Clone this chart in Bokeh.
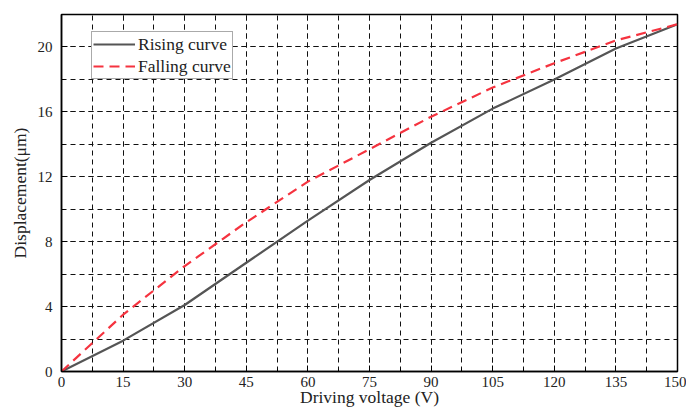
from bokeh.plotting import figure
from bokeh.models import Range1d, Legend, LegendItem, SingleIntervalTicker
from bokeh.embed import file_html
from bokeh.resources import INLINE

voltage = [0, 15, 30, 45, 60, 75, 90, 105, 120, 135, 150]
rising = [0, 1.9, 4.1, 6.7, 9.3, 11.8, 14.1, 16.2, 18.0, 19.9, 21.4]
falling = [0, 3.5, 6.5, 9.2, 11.7, 13.7, 15.7, 17.5, 19.0, 20.4, 21.4]

FONT = "Liberation Serif"

p = figure(width=686, height=414, output_backend="svg", toolbar_location=None,
           x_range=Range1d(0, 150), y_range=Range1d(0, 22),
           min_border_left=61, min_border_right=9, min_border_top=14, min_border_bottom=43)

p.background_fill_color = "white"
p.border_fill_color = "white"
p.outline_line_color = "black"
p.outline_line_width = 1.5
p.outline_line_alpha = 1

p.xaxis.ticker = SingleIntervalTicker(interval=15, num_minor_ticks=2)
p.yaxis.ticker = SingleIntervalTicker(interval=4, num_minor_ticks=2)

for ax in (p.xaxis[0], p.yaxis[0]):
    ax.axis_line_color = "black"
    ax.axis_line_width = 1.5
    ax.major_tick_in = 6
    ax.major_tick_out = 0
    ax.minor_tick_in = 3
    ax.minor_tick_out = 0
    ax.major_tick_line_color = "black"
    ax.minor_tick_line_color = "black"
    ax.major_label_text_font = FONT
    ax.major_label_text_font_size = "15px"
    ax.major_label_text_color = "#222222"
    ax.axis_label_text_font = FONT
    ax.axis_label_text_font_size = "17.5px"
    ax.axis_label_text_font_style = "normal"
    ax.axis_label_text_color = "#222222"

p.xaxis.axis_label = "Driving voltage (V)"
p.yaxis.axis_label = "Displacement(\u03bcm)"
p.xaxis.major_label_standoff = 5
p.xaxis.axis_label_standoff = -3
p.yaxis.major_label_standoff = 9
p.yaxis.axis_label_standoff = 5

for g in (p.xgrid[0], p.ygrid[0]):
    g.grid_line_color = "#111111"
    g.grid_line_dash = "5 4"
    g.grid_line_width = 1
    g.minor_grid_line_color = "#111111"
    g.minor_grid_line_dash = "5 4"
    g.minor_grid_line_width = 1

r1 = p.line(voltage, rising, line_color="#555555", line_width=2.2)
r2 = p.line(voltage, falling, line_color="#f5333f", line_width=2.2, line_dash="10 6")

legend = Legend(items=[LegendItem(label="Rising curve", renderers=[r1]),
                       LegendItem(label="Falling curve", renderers=[r2])],
                location=(30, 292))
legend.label_text_font = FONT
legend.label_text_font_size = "17.5px"
legend.label_text_color = "#222222"
legend.border_line_color = "#555555"
legend.border_line_width = 1.5
legend.padding = 1
legend.spacing = 0
legend.margin = 0
legend.glyph_width = 42
legend.glyph_height = 22
legend.label_height = 22
legend.label_standoff = 3
legend.background_fill_alpha = 1
p.add_layout(legend)

open("out.html", "w").write(file_html(p, INLINE))
